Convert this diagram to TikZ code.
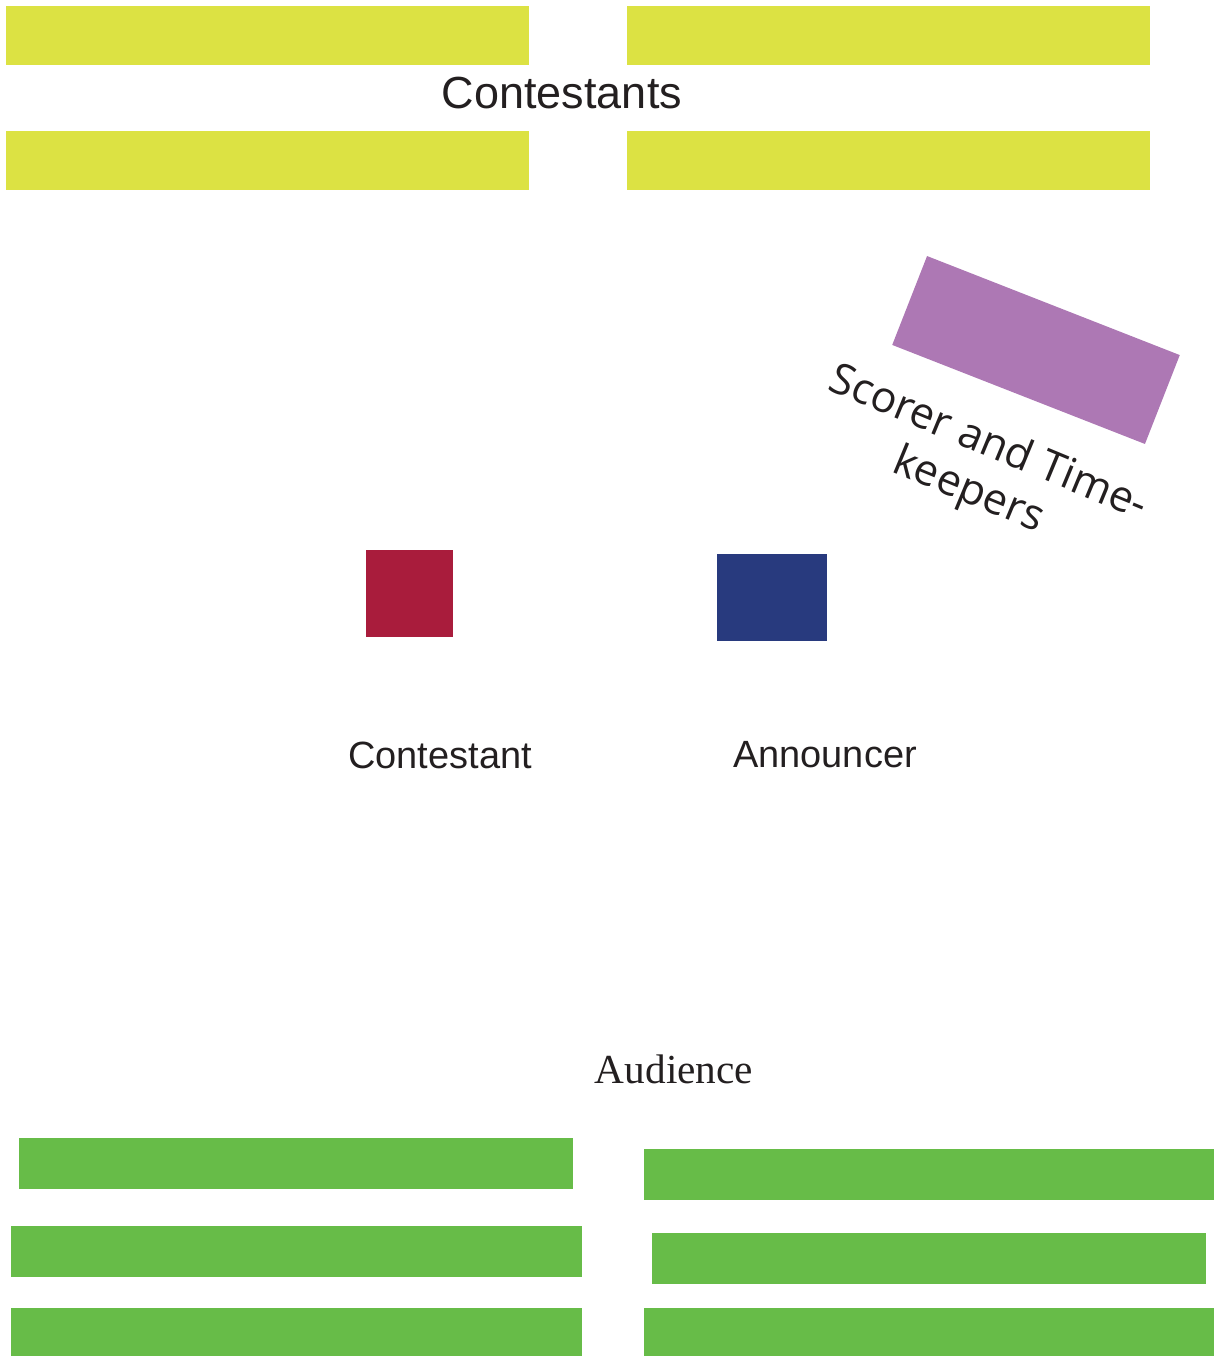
\documentclass[tikz,border=0pt]{standalone}
\usepackage{fontspec}
\setmainfont{Liberation Serif}
\setsansfont{Liberation Sans}
\newfontfamily\opensans{Open Sans}
\usepackage{xcolor}
\usepackage{tikz}
\definecolor{benchyellow}{RGB}{220, 226, 67}
\definecolor{seatgreen}{RGB}{103, 188, 72}
\definecolor{scorerpurple}{RGB}{173, 120, 180}
\definecolor{contestred}{RGB}{169, 28, 60}
\definecolor{announceblue}{RGB}{40, 58, 126}
\definecolor{labelgray}{RGB}{35, 31, 32}
\usetikzlibrary{shapes, positioning}

\begin{document}
\begin{tikzpicture}[
    x=0.02cm, y=-0.02cm,
    bench/.style={rectangle, fill=benchyellow, inner sep=0pt, minimum width=10.46cm, minimum height=1.18cm},
    seat/.style={rectangle, fill=seatgreen, inner sep=0pt, minimum height=1.02cm},
    spot/.style={rectangle, inner sep=0pt},
    tag/.style={inner sep=0pt, text=labelgray, font=\sffamily\fontsize{21.6pt}{26pt}\selectfont}
]
    \useasboundingbox (0, 0) rectangle (1214, 1356);
    % contestants benches
    \node[bench] (benchA) at (267.5, 35.5) {};
    \node[bench] (benchB) at (888.5, 35.5) {};
    \node[bench] (benchC) at (267.5, 160.5) {};
    \node[bench] (benchD) at (888.5, 160.5) {};
    \node[tag, font=\sffamily\fontsize{25.6pt}{30pt}\selectfont] (contestants) at (562, 93) {Contestants};
    % scorer table
    \node[spot, fill=scorerpurple, rotate=-21.4, minimum width=5.43cm, minimum height=1.91cm] (scorer) at (1036, 350) {};
    \node[tag, rotate=-22.5, align=center, font=\opensans\fontsize{24.5pt}{29pt}\selectfont] (scorerlabel) at (978, 468) {Scorer and Time-\\keepers};
    % stage
    \node[spot, fill=contestred, minimum width=1.74cm, minimum height=1.74cm] (contestant) at (409.5, 593.5) {};
    \node[spot, fill=announceblue, minimum width=2.2cm, minimum height=1.74cm] (announcer) at (772, 597.5) {};
    \node[tag] (contestantlabel) at (440, 755) {Contestant};
    \node[tag] (announcerlabel) at (825, 755) {Announcer};
    % audience
    \node[tag, font=\rmfamily\fontsize{23.5pt}{28pt}\selectfont] (audience) at (674, 1069) {Audience};
    \node[seat, minimum width=11.08cm] (rowA) at (296, 1163.5) {};
    \node[seat, minimum width=11.42cm] (rowB) at (296.5, 1251.5) {};
    \node[seat, minimum width=11.42cm, minimum height=0.96cm] (rowC) at (296.5, 1332) {};
    \node[seat, minimum width=11.4cm] (rowD) at (929, 1174.5) {};
    \node[seat, minimum width=11.08cm] (rowE) at (929, 1258.5) {};
    \node[seat, minimum width=11.4cm, minimum height=0.96cm] (rowF) at (929, 1332) {};
\end{tikzpicture}
\end{document}
